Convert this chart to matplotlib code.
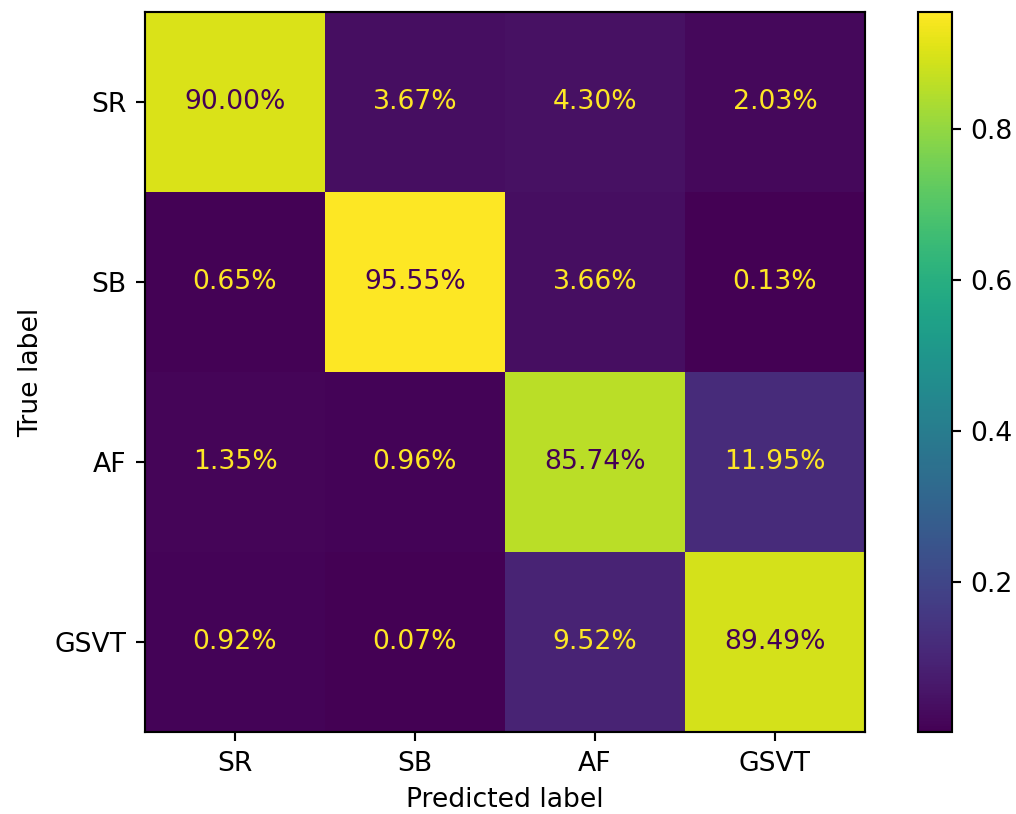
import matplotlib
matplotlib.use("Agg")
import matplotlib.pyplot as plt
import numpy as np

labels = ["SR", "SB", "AF", "GSVT"]
row_sr = [0.9000, 0.0367, 0.0430, 0.0203]
row_sb = [0.0065, 0.9555, 0.0366, 0.0013]
row_af = [0.0135, 0.0096, 0.8574, 0.1195]
row_gsvt = [0.0092, 0.0007, 0.0952, 0.8949]

cm = np.array([row_sr, row_sb, row_af, row_gsvt])
cmap = plt.get_cmap("viridis")

DPI = 192
fig = plt.figure(figsize=(1016 / DPI, 814 / DPI), dpi=DPI)
ax = fig.add_axes([145 / 1016, 82 / 814, 720 / 1016, 720 / 814])
cax = fig.add_axes([918 / 1016, 82 / 814, 34 / 1016, 720 / 814])

im = ax.imshow(cm, interpolation="nearest", cmap=cmap)
fig.colorbar(im, cax=cax)

# text colour like sklearn: dark on bright cells, bright on dark cells
thresh = (cm.max() + cm.min()) / 2.0
for i in range(cm.shape[0]):
    for j in range(cm.shape[1]):
        color = cmap(0.0) if cm[i, j] >= thresh else cmap(1.0)
        ax.text(j, i, f"{cm[i, j]:.2%}", ha="center", va="center", color=color)

ax.set_xticks(range(len(labels)), labels)
ax.set_yticks(range(len(labels)), labels)
ax.set_xlabel("Predicted label")
ax.set_ylabel("True label")

fig.savefig("out.png", dpi=DPI)
